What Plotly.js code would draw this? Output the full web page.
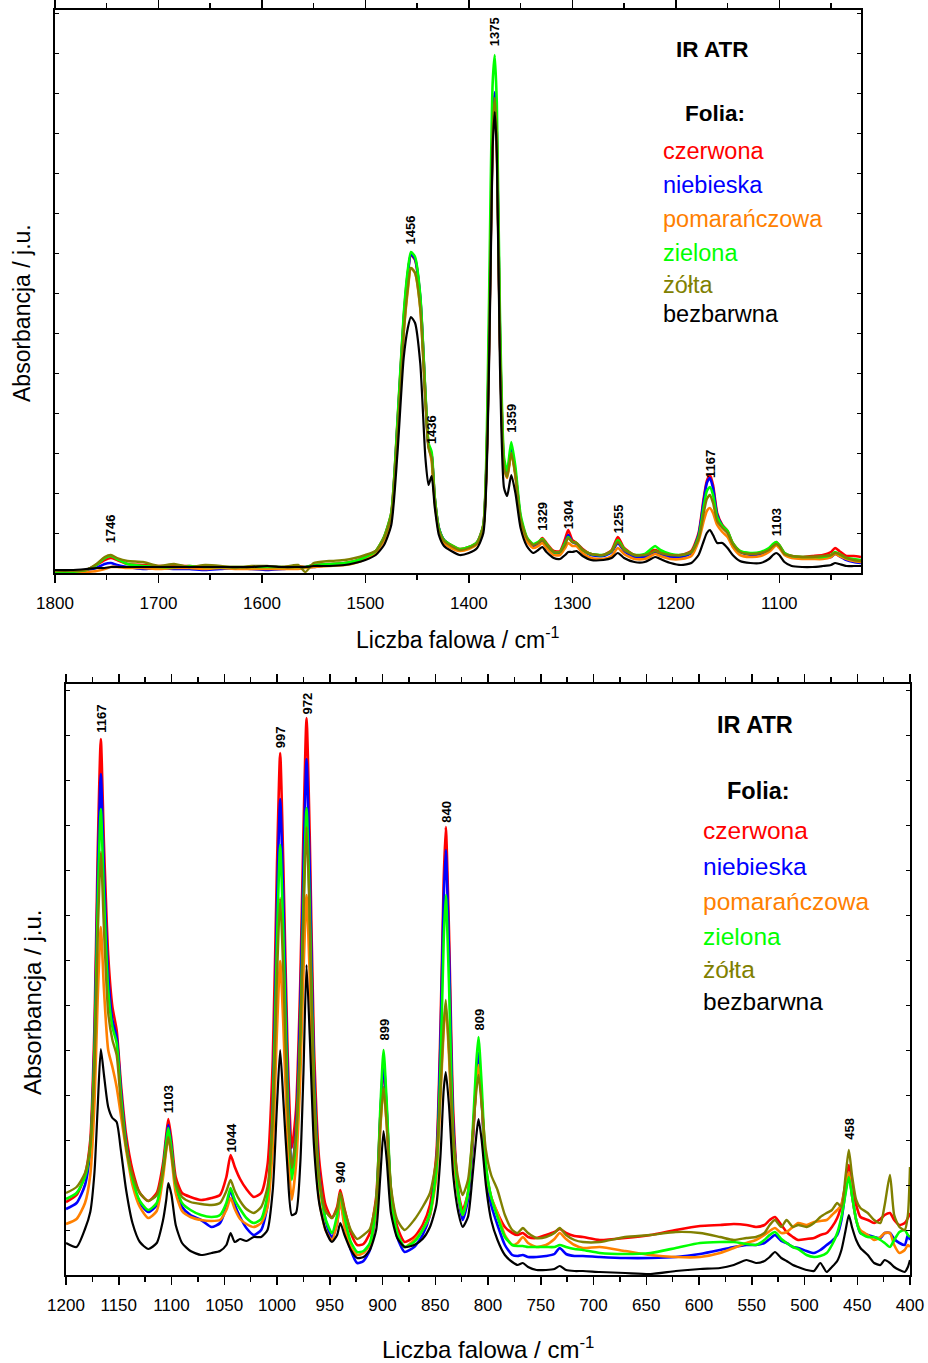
<!DOCTYPE html>
<html>
<head>
<meta charset="utf-8">
<script src="https://cdn.plot.ly/plotly-3.0.1.min.js"></script>
<style>html,body{margin:0;padding:0;background:#fff;}#chart{width:928px;height:1363px;}</style>
</head>
<body>
<div id="chart"></div>
<script>
// ---------- series names / colours ----------
const seriesNames = ["czerwona", "niebieska", "pomarańczowa", "zielona", "żółta", "bezbarwna"];
const seriesColors = ["#FF0000", "#0000FF", "#FF8000", "#00FF00", "#808000", "#000000"];

// ---------- TOP PANEL: 1800-1020 cm-1 ----------
const wnTop = [1800,1785,1770,1760,1752,1746,1740,1730,1715,1700,
  1685,1670,1655,1640,1625,1610,1595,1580,1565,1558,
  1550,1535,1520,1510,1500,1490,1482,1475,1469,1463,
  1459,1456,1452,1447,1442,1439,1436,1433,1429,1424,
  1417,1409,1400,1392,1386,1382,1379,1377,1375,1373,
  1370,1366,1363,1359,1355,1350,1344,1338,1333,1329,
  1325,1318,1312,1307,1304,1300,1296,1290,1282,1270,
  1262,1256,1250,1240,1230,1224,1220,1215,1205,1195,
  1185,1178,1173,1170,1167,1164,1160,1155,1150,1145,
  1138,1128,1118,1110,1106,1103,1100,1095,1088,1078,
  1068,1058,1050,1046,1042,1035,1028,1021];

const topRed = [2,2,3,8,13,15,13,9,8,7, 7,7,6,6,6,6,5,6,7,6, 8,9,10,12,16,22,36,60,150,255,
  300,318,313,275,178,128,118,75,45,33, 28,24,26,31,48,150,330,445,480,440,
  240,110,98,122,100,55,35,28,30,35, 30,22,22,34,43,33,30,24,19,18,
  23,36,25,18,18,22,23,21,18,18, 22,40,75,92,98,88,60,48,42,30,
  22,19,20,24,28,31,28,20,17,16, 17,18,21,25,22,17,17,16];
const topBlue = [1,2,3,5,9,10,8,6,4,5, 4,4,3,4,5,4,3,4,5,6, 6,8,9,11,15,21,35,58,148,252,
  298,319,314,276,178,128,118,75,45,33, 27,23,25,30,47,148,325,440,481,440,
  238,108,97,125,100,55,34,27,29,33, 28,20,20,30,38,31,29,23,18,17,
  21,30,22,16,16,19,21,19,16,16, 20,38,72,90,95,85,58,47,41,29,
  21,18,19,23,27,30,27,19,16,15, 15,15,16,19,17,13,11,10];
const topOrange = [0,0,1,2,4,6,6,5,5,4, 5,5,4,5,4,4,4,4,4,5, 6,7,8,10,14,20,33,56,140,240,
  283,305,300,265,175,128,112,72,42,30, 25,22,24,29,45,145,320,435,470,430,
  235,105,95,120,97,52,32,25,27,30, 25,18,18,25,30,27,27,20,15,14,
  17,25,19,14,14,17,19,17,14,14, 17,32,52,62,65,60,48,41,36,26,
  18,16,17,21,25,28,25,18,15,14, 14,14,16,19,17,14,12,11];
const topGreen = [0,1,3,8,15,17,14,9,7,6, 6,7,6,6,6,6,6,6,6,6, 8,9,10,12,16,22,36,60,152,258,
  303,321,316,278,180,130,121,76,45,33, 28,24,26,31,48,173,380,490,518,470,
  260,115,102,131,106,58,36,29,31,34, 29,21,21,30,36,31,30,23,19,18,
  22,33,24,18,19,24,27,23,19,18, 21,36,66,82,86,78,56,47,42,30,
  22,20,21,25,29,31,28,20,17,16, 16,16,18,21,19,15,14,13];
const topOlive = [2,2,3,9,16,18,15,12,11,7, 9,6,8,7,5,7,7,6,8,1, 10,12,13,15,18,22,35,58,140,240,
  285,305,300,265,172,125,115,73,43,32, 27,23,25,30,47,148,322,440,475,435,
  235,106,96,120,98,54,35,28,30,33, 28,21,21,28,35,31,30,23,19,18,
  22,31,23,18,18,20,22,20,18,18, 21,34,60,74,78,70,52,45,40,29,
  21,19,20,23,27,29,27,19,17,16, 16,17,18,20,19,15,13,12];
const topBlack = [3,3,4,5,5,6,6,6,6,6, 6,6,6,6,6,6,7,6,6,6, 7,7,8,10,13,18,28,48,120,215,
  245,256,250,210,115,88,97,66,38,27, 22,18,20,25,40,130,300,425,461,420,
  210,85,77,98,80,45,27,20,23,26, 21,15,14,18,21,21,22,17,13,13,
  15,20,15,11,11,14,16,14,10,8, 10,18,32,40,43,38,30,30,25,18,
  12,10,10,14,18,20,18,11,7,6, 6,7,8,10,9,7,7,7];

const topPeakWn = [1746, 1456, 1436, 1375, 1359, 1329, 1304, 1255, 1167, 1103];
const topPeakLevel = [28, 327, 127, 525, 138, 40, 42, 38, 93, 35];

// ---------- BOTTOM PANEL: 1200-400 cm-1 ----------
const wnBot = [1200,1190,1182,1177,1173,1170,1167,1164,1160,1156,
  1152,1148,1143,1137,1130,1122,1114,1108,1105,1103,
  1100,1096,1090,1082,1072,1062,1054,1048,1044,1040,
  1035,1029,1022,1015,1009,1004,1000,997,994,990,
  986,982,978,975,972,969,965,960,954,948,
  943,940,936,930,924,918,912,906,902,899,
  896,892,886,879,870,862,855,849,845,842,
  840,837,833,828,824,819,815,811,809,806,
  802,797,791,784,777,772,767,762,754,745,
  737,732,726,718,710,694,670,646,622,599,
  580,567,555,546,538,533,528,522,517,511,
  506,498,491,485,479,474,469,465,461,458,
  455,451,447,440,434,428,424,419,415,410,
  405,402,400];

const botRed = [73,80,100,135,250,420,536,430,320,268,
  245,192,140,105,82,74,82,112,140,156,
  135,98,82,78,75,77,80,98,120,108,
  96,86,78,82,110,215,410,522,410,225,
  127,165,290,440,557,440,230,115,70,57,
  68,85,66,42,30,31,42,78,160,208,
  163,85,48,33,38,50,70,120,250,395,
  448,345,165,82,65,82,123,196,217,177,
  108,78,62,48,42,40,42,38,37,40,
  43,46,42,39,38,35,37,40,45,49,
  50,51,50,48,50,55,58,50,43,38,
  35,36,37,40,42,48,57,70,92,110,
  92,70,58,55,52,56,60,62,55,50,
  52,57,62];
const botBlue = [66,72,90,125,232,392,501,402,300,255,
  238,185,132,95,72,63,70,105,135,150,
  128,88,68,60,55,48,52,68,85,70,
  58,47,40,45,70,170,370,476,375,200,
  103,145,265,405,516,405,205,100,55,37,
  52,75,52,25,12,14,25,68,160,213,
  165,80,38,23,28,40,60,110,235,375,
  425,325,150,78,55,75,125,200,222,175,
  100,70,50,30,20,19,20,18,18,19,
  21,27,21,19,19,18,17,17,18,21,
  25,28,30,30,32,36,40,34,32,28,
  27,24,22,25,30,34,40,55,85,103,
  80,55,42,40,38,37,42,42,36,32,
  30,40,35];
const botOrange = [51,56,72,100,172,275,348,285,225,208,
  188,160,125,90,68,57,64,98,125,138,
  118,82,64,58,55,54,55,65,77,66,
  56,51,48,52,68,128,245,314,250,135,
  75,110,195,300,380,300,155,75,45,35,
  52,75,48,28,20,22,30,65,148,187,
  150,78,40,28,35,45,60,98,180,245,
  270,220,125,78,60,82,130,192,210,175,
  105,78,62,40,30,32,38,32,28,30,
  36,42,36,30,27,28,24,20,18,18,
  22,27,32,35,40,44,47,42,43,48,
  52,50,53,54,55,60,65,70,90,103,
  80,55,45,40,35,38,42,42,30,22,
  25,30,28];
const botGreen = [76,82,98,128,222,368,466,378,285,248,
  232,180,130,96,74,65,72,105,133,147,
  126,90,72,65,60,58,60,72,87,75,
  66,57,52,56,80,165,335,430,340,182,
  95,135,240,368,467,368,190,95,56,42,
  60,82,58,33,23,24,32,72,168,225,
  172,85,42,28,33,45,62,105,210,335,
  380,292,140,80,60,82,135,214,238,190,
  110,78,58,38,30,29,29,28,28,28,
  28,30,28,26,25,22,21,22,27,32,
  33,33,31,30,35,40,43,36,32,28,
  26,20,18,19,22,30,42,58,82,98,
  80,55,42,38,38,35,32,28,35,43,
  45,40,38];
const botOlive = [82,88,102,130,210,335,423,345,262,235,
  220,172,128,100,82,74,80,104,126,138,
  120,92,78,73,71,70,72,84,95,84,
  74,66,62,68,88,158,298,377,302,170,
  107,140,238,355,448,355,185,98,64,57,
  66,82,65,45,36,40,46,75,150,188,
  150,88,55,45,55,68,82,115,185,250,
  275,225,140,95,80,95,135,185,200,170,
  125,100,85,60,45,42,47,42,37,38,
  42,47,40,35,33,33,38,40,43,42,
  38,35,37,38,42,50,55,48,55,48,
  50,48,52,58,62,65,72,68,100,125,
  100,75,67,62,55,52,70,100,60,48,
  45,60,108];
const botBlack = [32,28,46,63,103,167,226,200,168,157,
  153,125,85,52,33,26,32,55,75,92,
  80,50,32,24,20,22,24,30,42,33,
  36,34,38,38,45,85,170,225,175,105,
  60,62,110,200,310,240,130,72,45,33,
  40,52,40,25,17,18,25,45,100,144,
  115,62,37,28,30,36,48,70,120,185,
  203,170,100,62,48,58,95,140,156,135,
  90,55,35,20,13,10,12,8,5,5,
  6,9,5,4,4,3,2,1,4,6,
  7,10,15,12,14,18,23,17,14,10,
  8,5,4,12,3,8,14,25,45,60,
  48,35,27,20,12,10,15,12,8,5,
  3,8,15];

const botPeakWn = [1167, 1103, 1044, 997, 972, 940, 899, 840, 809, 458];
const botPeakLevel = [540, 160, 120, 525, 558, 90, 232, 450, 242, 133];

// ---------- text ----------
const xTitle = "Liczba falowa / cm<sup>-1</sup>";
const yTitle = "Absorbancja / j.u.";
const boxTitle = "IR ATR";
const legendHead = "Folia:";

// ---------- build ----------
const FONT = "Liberation Sans, Arial, Helvetica, sans-serif";
const topSeries = [topRed, topBlue, topOrange, topGreen, topOlive, topBlack];
const botSeries = [botRed, botBlue, botOrange, botGreen, botOlive, botBlack];
const widths = [2.6, 2.6, 2.6, 2.6, 2.4, 2.2];

const traces = [];
topSeries.forEach((ys, i) => traces.push({
  type: "scatter", mode: "lines", x: wnTop, y: ys, xaxis: "x", yaxis: "y",
  name: seriesNames[i], showlegend: false, hoverinfo: "skip",
  line: {color: seriesColors[i], width: widths[i], shape: "spline", smoothing: 0.6}
}));
botSeries.forEach((ys, i) => traces.push({
  type: "scatter", mode: "lines", x: wnBot, y: ys, xaxis: "x2", yaxis: "y2",
  name: seriesNames[i], showlegend: false, hoverinfo: "skip",
  line: {color: seriesColors[i], width: widths[i], shape: "spline", smoothing: 0.6}
}));

const W = 928, H = 1363;
const px = v => v / W;
const py = v => (H - v) / H;

const annotations = [];
function peakLabels(wns, levels, xr, yr) {
  wns.forEach((w, i) => annotations.push({
    xref: xr, yref: yr, x: w, y: levels[i], text: String(w), textangle: -90,
    showarrow: false, xanchor: "center", yanchor: "bottom",
    font: {family: FONT, size: 13, color: "#000", weight: "bold"}
  }));
}
peakLabels(topPeakWn, topPeakLevel, "x", "y");
peakLabels(botPeakWn, botPeakLevel, "x2", "y2");

function legendBlock(cx, yIR, yFolia, xLeft, ys, sz) {
  annotations.push({xref: "paper", yref: "paper", x: px(cx), y: py(yIR), text: "<b>" + boxTitle + "</b>",
    showarrow: false, xanchor: "center", yanchor: "middle", font: {family: FONT, size: sz - 1, color: "#000"}});
  annotations.push({xref: "paper", yref: "paper", x: px(cx + 3), y: py(yFolia), text: "<b>" + legendHead + "</b>",
    showarrow: false, xanchor: "center", yanchor: "middle", font: {family: FONT, size: sz - 1, color: "#000"}});
  seriesNames.forEach((n, i) => annotations.push({xref: "paper", yref: "paper", x: px(xLeft), y: py(ys[i]), text: n,
    showarrow: false, xanchor: "left", yanchor: "middle", font: {family: FONT, size: sz, color: seriesColors[i]}}));
}
legendBlock(712, 50, 113, 661, [151, 185, 219, 253, 285, 314], 23.5);
legendBlock(755, 725, 791, 701, [830, 866, 901, 936, 970, 1001], 24.5);

function axisTitles(xc, yc, yx, yy, sz) {
  annotations.push({xref: "paper", yref: "paper", x: px(xc), y: py(yc), text: xTitle, showarrow: false,
    xanchor: "center", yanchor: "middle", font: {family: FONT, size: sz, color: "#000"}});
  annotations.push({xref: "paper", yref: "paper", x: px(yx), y: py(yy), text: yTitle, showarrow: false, textangle: -90,
    xanchor: "center", yanchor: "middle", font: {family: FONT, size: sz, color: "#000"}});
}
axisTitles(458, 638, 22, 313, 23);
axisTitles(488, 1348, 32, 1003, 24);

const baseX = {
  showline: true, linewidth: 2, linecolor: "#000", mirror: "ticks",
  ticks: "outside", ticklen: 8, tickwidth: 1.5, tickcolor: "#000",
  showgrid: false, zeroline: false, ticklabelstandoff: 6,
  tickfont: {family: FONT, size: 17, color: "#000"}
};
const baseY = {
  showline: true, linewidth: 2, linecolor: "#000", mirror: "ticks",
  ticks: "inside", ticklen: 4, tickwidth: 1, tickcolor: "#000",
  showgrid: false, zeroline: false, showticklabels: false
};

const layout = {
  width: W, height: H, margin: {l: 0, r: 0, t: 0, b: 0},
  paper_bgcolor: "#fff", plot_bgcolor: "#fff", showlegend: false,
  xaxis: Object.assign({}, baseX, {domain: [px(55), px(861)], anchor: "y", range: [1800, 1021],
    tickmode: "linear", tick0: 0, dtick: 100,
    minor: {ticks: "outside", ticklen: 5, dtick: 50, tick0: 0, tickcolor: "#000", showgrid: false}}),
  yaxis: Object.assign({}, baseY, {domain: [py(573), py(10)], anchor: "x", range: [0, 563], dtick: 40}),
  xaxis2: Object.assign({}, baseX, {domain: [px(66), px(910)], anchor: "y2", range: [1200, 400],
    tickmode: "linear", tick0: 0, dtick: 50,
    minor: {ticks: "outside", ticklen: 5, dtick: 25, tick0: 0, tickcolor: "#000", showgrid: false}}),
  yaxis2: Object.assign({}, baseY, {domain: [py(1275), py(684)], anchor: "x2", range: [0, 591], dtick: 45}),
  annotations: annotations
};

Plotly.newPlot("chart", traces, layout, {staticPlot: true, displayModeBar: false});
</script>
</body>
</html>
